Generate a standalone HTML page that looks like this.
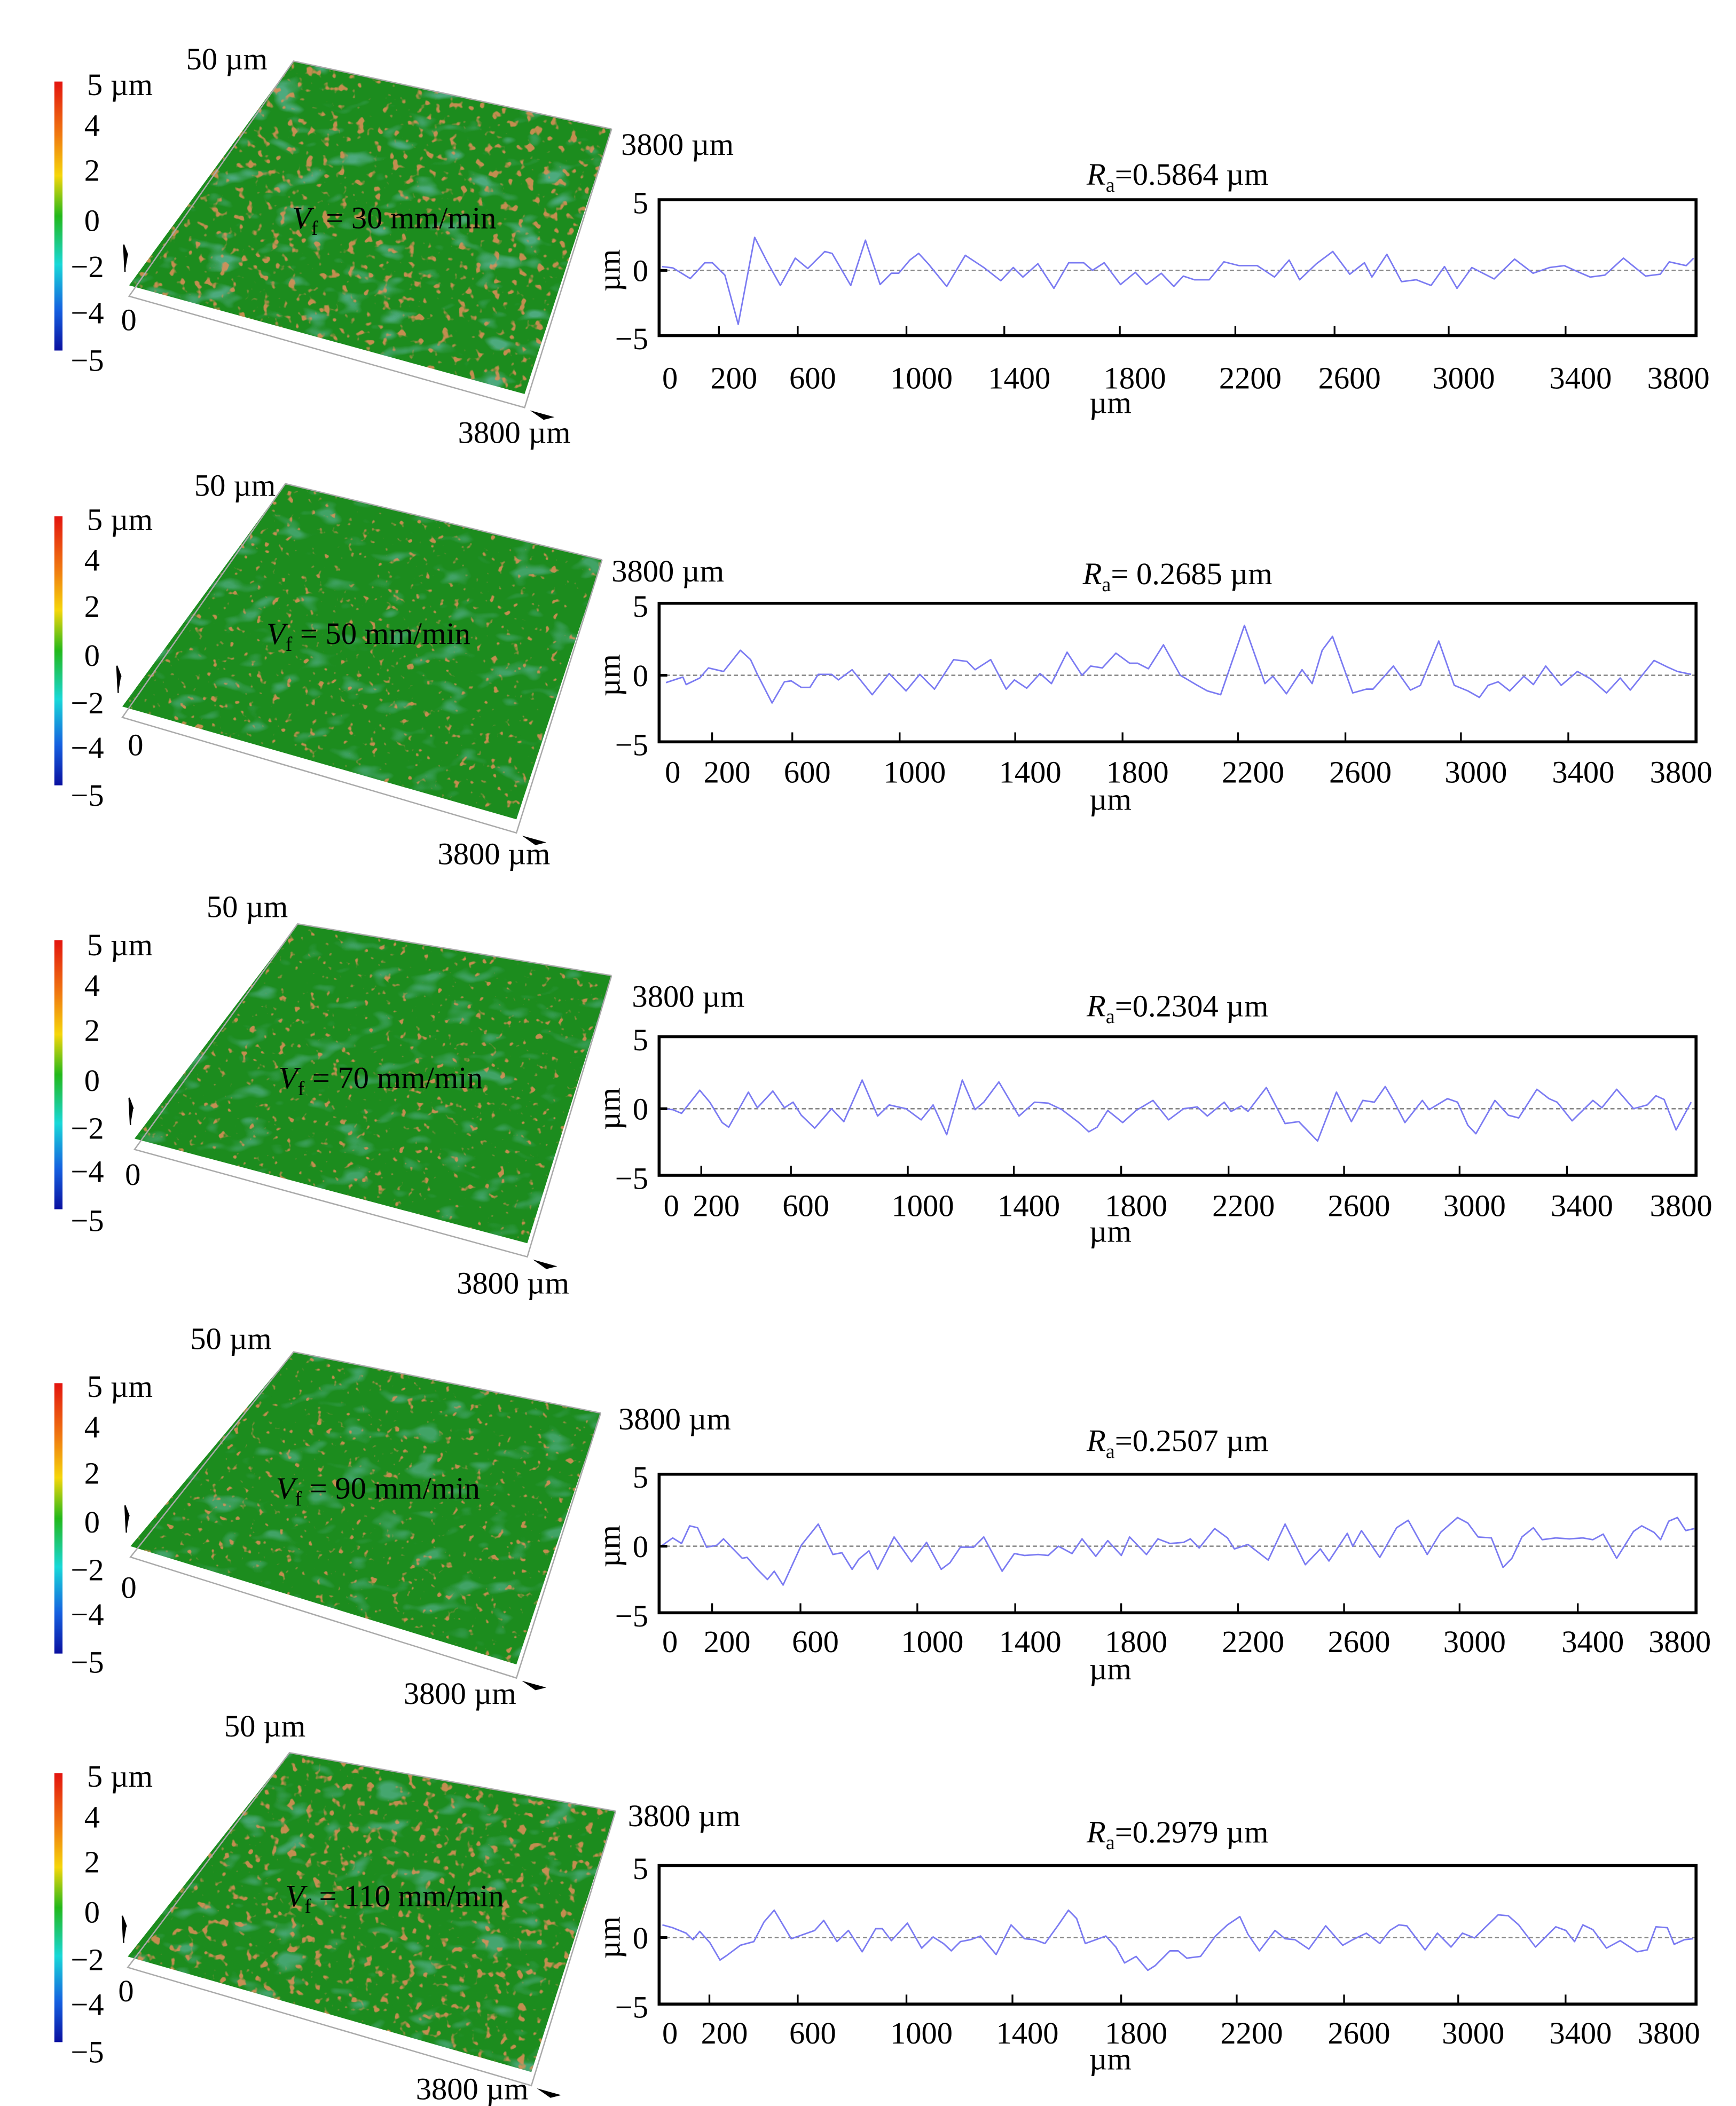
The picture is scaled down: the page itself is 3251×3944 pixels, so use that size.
<!DOCTYPE html>
<html><head><meta charset="utf-8">
<style>
html,body{margin:0;padding:0;background:#fff;}
svg{display:block;font-family:"Liberation Serif",serif;}
</style></head>
<body>
<svg id="fig" xmlns="http://www.w3.org/2000/svg" width="3251" height="3944" viewBox="0 0 1277.4 1550" preserveAspectRatio="none">
<defs>
<linearGradient id="cbar" x1="0" y1="0" x2="0" y2="1">
<stop offset="0" stop-color="#e3140f"/><stop offset="0.2" stop-color="#f07a10"/><stop offset="0.35" stop-color="#f5d60a"/><stop offset="0.5" stop-color="#22b81a"/><stop offset="0.68" stop-color="#18d8d8"/><stop offset="0.85" stop-color="#1560e0"/><stop offset="1" stop-color="#0a10a0"/>
</linearGradient>
<filter id="redA" x="0" y="0" width="1" height="1"><feTurbulence type="fractalNoise" baseFrequency="0.16" numOctaves="2" seed="3"/><feColorMatrix type="matrix" values="0 0 0 0 0.75  0 0 0 0 0.27  0 0 0 0 0.1  9 0 0 0 -5.5"/></filter>
<filter id="redB" x="0" y="0" width="1" height="1"><feTurbulence type="fractalNoise" baseFrequency="0.18" numOctaves="2" seed="7"/><feColorMatrix type="matrix" values="0 0 0 0 0.75  0 0 0 0 0.27  0 0 0 0 0.1  10 0 0 0 -6.6"/></filter>
<filter id="blueA" x="0" y="0" width="1" height="1"><feTurbulence type="fractalNoise" baseFrequency="0.04 0.08" numOctaves="2" seed="11"/><feColorMatrix type="matrix" values="0 0 0 0 0.16  0 0 0 0 0.52  0 0 0 0 0.52  0 5 0 0 -2.9"/></filter>
</defs>
</svg>
<script>
// ---------- profile data (x in µm, height in µm) ----------
const x1 = [11,51,114,168,195,241,290,350,396,444,499,545,607,634,702,756,810,851,878,919,951,986,1054,1122,1190,1252,1298,1333,1388,1447,1501,1556,1588,1631,1691,1745,1786,1840,1886,1921,1962,2016,2070,2125,2192,2255,2309,2347,2409,2469,2531,2585,2612,2667,2721,2775,2829,2878,2924,2978,3060,3135,3203,3263,3317,3371,3412,3466,3534,3615,3669,3702,3764,3791];
const y1 = [0.28,0.18,-0.6,0.56,0.56,-0.35,-3.97,2.43,0.63,-1.11,0.9,0.14,1.39,1.25,-1.11,2.22,-1.04,-0.21,-0.21,0.76,1.25,0.49,-1.18,1.11,0.21,-0.76,0.21,-0.49,0.49,-1.32,0.56,0.56,0,0.56,-1.04,-0.14,-1.04,-0.21,-1.18,-0.42,-0.69,-0.69,0.63,0.35,0.35,-0.49,0.76,-0.69,0.49,1.39,-0.28,0.56,-0.49,1.18,-0.83,-0.69,-1.11,0.28,-1.32,0.21,-0.63,0.83,-0.21,0.21,0.35,-0.14,-0.49,-0.35,0.9,-0.42,-0.28,0.63,0.35,0.9];
const x2 = [25,87,99,149,181,236,298,335,360,414,459,484,521,553,583,632,657,707,781,843,905,955,1009,1079,1128,1158,1215,1272,1302,1347,1396,1438,1495,1550,1582,1624,1674,1724,1753,1793,1848,1910,1972,2009,2058,2145,2220,2249,2299,2356,2393,2430,2468,2542,2592,2616,2691,2753,2790,2857,2914,2964,3006,3038,3075,3117,3169,3204,3249,3306,3365,3415,3472,3522,3559,3646,3695,3732,3782];
const y2 = [-0.53,-0.13,-0.67,-0.2,0.53,0.27,1.8,1.13,0.07,-2.0,-0.47,-0.4,-0.87,-0.87,0.07,0.07,-0.33,0.4,-1.4,0.13,-1.13,0.07,-1.0,1.13,1.0,0.4,1.13,-1.0,-0.33,-0.93,0.13,-0.6,1.67,0,0.67,0.53,1.6,0.87,0.87,0.47,2.2,0,-0.73,-1.13,-1.4,3.6,-0.6,-0.07,-1.33,0.4,-0.6,1.8,2.8,-1.27,-1.0,-1.0,0.67,-1.07,-0.73,2.47,-0.73,-1.13,-1.6,-0.73,-0.47,-1.13,-0.07,-0.67,0.67,-0.73,0.27,-0.27,-1.27,-0.2,-1.07,1.07,0.6,0.27,0.07];
const x3 = [12,50,82,149,186,231,255,327,360,417,459,491,521,570,632,677,744,801,843,905,960,1004,1054,1111,1158,1190,1245,1319,1376,1426,1476,1538,1575,1605,1644,1699,1748,1810,1867,1922,1972,2009,2071,2096,2133,2158,2225,2294,2344,2413,2482,2537,2579,2621,2661,2691,2733,2797,2822,2889,2926,2964,2993,3063,3112,3150,3217,3261,3291,3346,3422,3455,3509,3571,3621,3653,3683,3727,3782];
const y3 = [0,-0.07,-0.33,1.33,0.47,-1.0,-1.33,1.2,0.07,1.27,0.07,0.47,-0.47,-1.4,0,-0.93,2.07,-0.53,0.27,0,-0.8,0.27,-1.87,2.07,-0.07,0.47,1.93,-0.53,0.47,0.4,-0.07,-1.0,-1.67,-1.33,-0.13,-1.0,-0.13,0.6,-0.8,0,0.13,-0.53,0.47,-0.2,0.2,-0.2,1.53,-1.07,-0.93,-2.33,1.2,-0.93,0.6,0.47,1.6,0.6,-1.0,0.6,-0.07,0.73,0.47,-1.2,-1.8,0.6,-0.47,-0.67,1.4,0.73,0.47,-0.87,0.6,0.07,1.4,0,0.27,0.93,0.67,-1.53,0.47];
const x4 = [12,50,82,112,141,174,211,236,265,305,322,360,397,422,454,521,583,637,670,707,732,769,801,861,925,980,1034,1066,1104,1153,1190,1257,1302,1339,1389,1426,1463,1513,1550,1600,1644,1694,1724,1786,1828,1872,1922,1947,1979,2036,2083,2108,2158,2232,2294,2368,2423,2455,2522,2542,2574,2641,2703,2745,2815,2864,2926,2964,3001,3050,3093,3125,3162,3204,3236,3286,3336,3385,3422,3460,3509,3571,3601,3646,3670,3700,3732,3762,3794];
const y4 = [0.07,0.6,0.2,1.47,1.33,-0.07,0.07,0.53,-0.07,-0.87,-0.8,-1.67,-2.4,-1.8,-2.8,0.07,1.6,-0.6,-0.47,-1.67,-0.93,-0.33,-1.67,0.67,-1.13,0.27,-1.67,-1.2,-0.07,-0.07,0.67,-1.8,-0.53,-0.67,-0.6,-0.67,0,-0.53,0.53,-0.73,0.4,-0.67,0.67,-0.6,0.53,0.2,0.27,0.53,-0.13,1.27,0.6,-0.2,0.13,-1.0,1.6,-1.33,-0.2,-1.07,0.93,0,1.13,-0.8,1.33,1.87,-0.6,1.0,2.07,1.67,0.67,0.6,-1.53,-0.87,0.67,1.33,0.47,0.6,0.53,0.6,0.47,0.87,-0.87,1.07,1.47,1.0,0.47,1.8,2.07,1.13,1.27];
const x5 = [12,50,99,124,149,186,223,248,298,347,384,422,484,521,570,603,652,694,744,794,818,851,910,962,1004,1042,1071,1104,1141,1178,1235,1290,1339,1376,1414,1463,1500,1530,1562,1600,1637,1674,1706,1748,1791,1818,1872,1902,1934,1984,2039,2083,2128,2158,2200,2257,2294,2331,2381,2443,2505,2542,2592,2641,2678,2711,2740,2807,2852,2902,2944,2988,3026,3075,3112,3150,3212,3286,3323,3355,3385,3422,3472,3522,3584,3621,3653,3695,3720,3757,3789];
const y5 = [0.91,0.71,0.31,-0.16,0.44,-0.36,-1.63,-1.29,-0.56,-0.29,1.11,1.97,-0.09,0.17,0.51,1.24,-0.29,0.51,-1.03,0.64,0.64,-0.23,1.04,-0.76,0.04,-0.43,-0.96,-0.29,-0.16,0.11,-1.23,0.91,-0.09,-0.16,-0.43,0.91,1.97,1.37,-0.43,-0.16,0.11,-0.69,-1.83,-1.36,-2.36,-2.03,-0.96,-0.96,-1.49,-1.36,0.11,0.91,1.51,0.24,-0.96,0.51,-0.09,-0.16,-0.83,0.84,-0.56,-0.16,0.31,-0.43,0.51,0.91,0.84,-0.89,0.31,-0.69,0.31,-0.03,0.71,1.64,1.57,0.91,-0.69,0.77,0.51,-0.29,0.91,0.57,-0.76,-0.23,-1.03,-0.89,0.77,0.71,-0.49,-0.16,-0.09];
const raLabels = ["=0.5864 µm","= 0.2685 µm","=0.2304 µm","=0.2507 µm","=0.2979 µm"];
const feedLabels = ["30","50","70","90","110"];
const xTickValues = ["0","200","600","1000","1400","1800","2200","2600","3000","3400","3800"];
const colorbarLabels = ["5 µm","4","2","0","−2","−4","−5"];
const yTickLabels = ["5","0","−5"];

// ---------- layout ----------
const NS = "http://www.w3.org/2000/svg";
const svg = document.getElementById('fig');
function mk(tag, attrs, parent, txt){const e=document.createElementNS(NS,tag);for(const k in attrs)e.setAttribute(k,attrs[k]);if(txt!==undefined)e.textContent=txt;(parent||svg).appendChild(e);return e;}
const rows = [
 {T:147,B:247,title:128,tl:278,um:298,tickX:[493,540,598,678,750,835,920,993,1077,1163,1235],xs:x1,ys:y1,
  cb:[60,258],cbl:[62,92,125,162,196,230,265],sf:[[216,45],[450,95],[386,290],[95,210]],l50:[137,43],l0:[95,235],r38:[457,106],b38:[337,318],vf:[215,160],red:'redA',blue:0.6},
 {T:444,B:546,title:422,tl:568,um:590,tickX:[495,535,594,673,758,837,922,1001,1086,1165,1237],xs:x2,ys:y2,
  cb:[380,578],cbl:[382,412,446,482,517,550,585],sf:[[210,356],[443,412],[380,603],[90,520]],l50:[143,357],l0:[100,548],r38:[450,420],b38:[322,628],vf:[196,466],red:'redB',blue:0.45},
 {T:763,B:865,title:740,tl:887,um:908,tickX:[494,527,593,679,757,836,915,1000,1085,1164,1237],xs:x3,ys:y3,
  cb:[692,890],cbl:[695,725,758,795,830,862,898],sf:[[219,680],[450,718],[388,915],[99,838]],l50:[152,667],l0:[98,864],r38:[465,733],b38:[336,944],vf:[205,793],red:'redB',blue:0.45},
 {T:1085,B:1187,title:1060,tl:1208,um:1230,tickX:[493,535,600,686,758,836,922,1000,1085,1172,1236],xs:x4,ys:y4,
  cb:[1018,1217],cbl:[1020,1050,1084,1120,1155,1188,1223],sf:[[216,995],[442,1040],[380,1225],[96,1138]],l50:[140,985],l0:[95,1168],r38:[455,1044],b38:[297,1246],vf:[203,1095],red:'redB',blue:0.45},
 {T:1373,B:1475,title:1348,tl:1496,um:1517,tickX:[493,533,598,678,756,836,921,1000,1084,1163,1228],xs:x5,ys:y5,
  cb:[1305,1503],cbl:[1307,1337,1370,1407,1442,1475,1510],sf:[[213,1290],[453,1333],[391,1525],[94,1440]],l50:[165,1270],l0:[93,1465],r38:[462,1336],b38:[306,1537],vf:[210,1395],red:'redA',blue:0.5}
];
const L=485, R=1248, FS=23;

rows.forEach((r,i)=>{
  const g = mk('g',{});
  
  

  // ---- 3D surface ----
  const s = mk('g',{},g);
  
  
  const pts = r.sf.map(p=>p.join(',')).join(' ');
  const cp = mk('clipPath',{id:'clip'+i},s);
  mk('polygon',{points:pts},cp);
  const base = mk('polygon',{points:pts,fill:'#1c8c1e'},s);
  
  
  const minX=Math.min(...r.sf.map(p=>p[0])),maxX=Math.max(...r.sf.map(p=>p[0]));
  const minY=Math.min(...r.sf.map(p=>p[1])),maxY=Math.max(...r.sf.map(p=>p[1]));
  mk('rect',{x:minX,y:minY,width:maxX-minX,height:maxY-minY,filter:'url(#blueA)','clip-path':'url(#clip'+i+')',opacity:r.blue},s);
  mk('rect',{x:minX,y:minY,width:maxX-minX,height:maxY-minY,filter:'url(#'+r.red+')','clip-path':'url(#clip'+i+')',opacity:0.85},s);
  // bounding box edges
  const [bl,br,fr,fl]=r.sf;
  mk('polyline',{points:`${br[0]},${br[1]} ${bl[0]},${bl[1]} ${fl[0]},${fl[1]+8} ${fr[0]},${fr[1]+10} ${br[0]},${br[1]}`,fill:'none',stroke:'#aaa','stroke-width':1},s);
  mk('path',{d:`M${fl[0]-3},${fl[1]-10} L${fl[0]-4},${fl[1]-30} L${fl[0]-1},${fl[1]-22}`,fill:'#000',stroke:'#000','stroke-width':1},s);
  mk('path',{d:`M${fr[0]+4},${fr[1]+12} L${fr[0]+22},${fr[1]+17} L${fr[0]+14},${fr[1]+19}Z`,fill:'#000'},s);

  // colorbar
  const cb = mk('rect',{x:40,y:r.cb[0],width:6,height:r.cb[1]-r.cb[0],fill:'url(#cbar)'},g);
  
  
  colorbarLabels.forEach((t,k)=>{
    const tx = mk('text',{x:(k===0?64:(t.length>1?52:62)),y:r.cbl[k]+8,'font-size':FS},g,t);
    
    
  });
  const t50 = mk('text',{x:r.l50[0],y:r.l50[1]+8,'font-size':FS},g,'50 µm');
  
  
  const t0 = mk('text',{x:r.l0[0]-6,y:r.l0[1]+8,'font-size':FS},g,'0');
  
  
  const tr = mk('text',{x:r.r38[0],y:r.r38[1]+8,'font-size':FS},g,'3800 µm');
  
  
  const tb = mk('text',{x:r.b38[0],y:r.b38[1]+8,'font-size':FS},g,'3800 µm');
  
  
  const vf = mk('text',{x:r.vf[0],y:r.vf[1]+8,'font-size':FS},g);
  
  
  mk('tspan',{'font-style':'italic'},vf,'V');
  mk('tspan',{'font-size':15,dy:5},vf,'f');
  mk('tspan',{dy:-5},vf,' = '+feedLabels[i]+' mm/min');

  // ---- profile chart ----
  const c = mk('g',{},g);
  
  
  const zeroY = (r.T+r.B)/2+2, k = (r.B-r.T)/10;
  const xs = v => L + v/3800*(R-L);
  const ys = v => zeroY - v*k;
  const title = mk('text',{x:(L+R)/2,y:r.title+8,'font-size':FS,'text-anchor':'middle'},c);
  
  
  mk('tspan',{'font-style':'italic'},title,'R');
  mk('tspan',{'font-size':15,dy:5},title,'a');
  mk('tspan',{dy:-5},title,raLabels[i]);
  const zl = mk('line',{x1:L,x2:R,y1:zeroY,y2:zeroY,stroke:'#888','stroke-width':1,'stroke-dasharray':'3,2'},c);
  
  
  const d = r.xs.map((v,j)=>(j?'L':'M')+xs(v).toFixed(1)+','+ys(r.ys[j]).toFixed(1)).join(' ');
  const pl = mk('path',{d:d,fill:'none',stroke:'#7b7bf2','stroke-width':1.1,'stroke-linejoin':'round'},c);
  
  
  const box = mk('rect',{x:L,y:r.T,width:R-L,height:r.B-r.T,fill:'none',stroke:'#000','stroke-width':2.2},c);
  
  
  mk('line',{x1:L,x2:L+6,y1:zeroY,y2:zeroY,stroke:'#000','stroke-width':2},c);
  xTickValues.forEach((t,j)=>{
    const tx = mk('text',{x:r.tickX[j],y:r.tl+8,'font-size':FS,'text-anchor':'middle'},c,t);
    
    
    if(j>0 && j<xTickValues.length-1){
      const tk = mk('line',{x1:r.tickX[j]-11,x2:r.tickX[j]-11,y1:r.B,y2:r.B-7,stroke:'#000','stroke-width':1.3},c);
      
      
    }
  });
  [[r.T+10,yTickLabels[0]],[zeroY+8,yTickLabels[1]],[r.B+10,yTickLabels[2]]].forEach(([yy,t])=>{
    const tx = mk('text',{x:477,y:yy,'font-size':FS,'text-anchor':'end'},c,t);
    
    
  });
  const yt = mk('text',{x:0,y:0,'font-size':FS,'text-anchor':'middle',transform:`translate(456,${zeroY}) rotate(-90)`},c,'µm');
  
  
  const xt = mk('text',{x:817,y:r.um+6,'font-size':FS,'text-anchor':'middle'},c,'µm');
  
  
});
</script>
</body></html>
